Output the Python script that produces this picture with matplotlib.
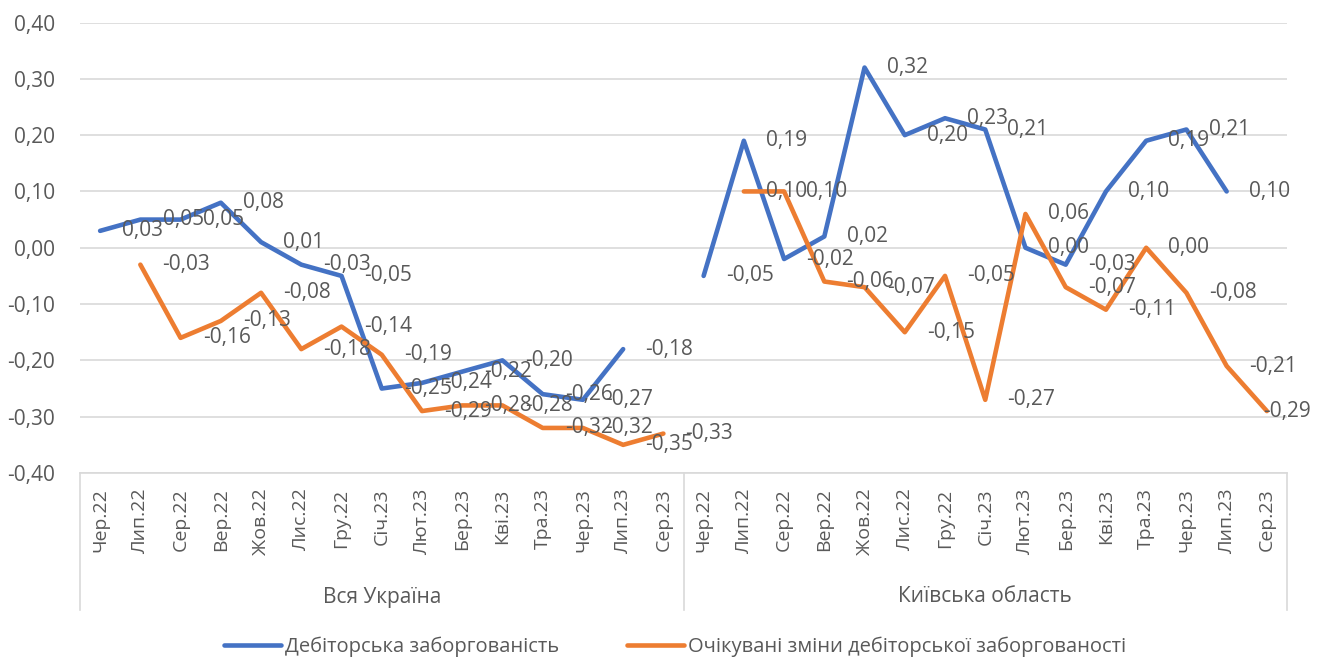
import numpy as np
import matplotlib
matplotlib.use("Agg")
import matplotlib.pyplot as plt
from matplotlib.ticker import FuncFormatter

plt.rcParams['font.family'] = ['Open Sans', 'DejaVu Sans']

months = ["Чер.22", "Лип.22", "Сер.22", "Вер.22", "Жов.22", "Лис.22", "Гру.22",
          "Січ.23", "Лют.23", "Бер.23", "Кві.23", "Тра.23", "Чер.23", "Лип.23", "Сер.23"]
groups = ["Вся Україна", "Київська область"]

nan = np.nan
debt_ukraine = [0.03, 0.05, 0.05, 0.08, 0.01, -0.03, -0.05, -0.25, -0.24, -0.22,
                -0.20, -0.26, -0.27, -0.18, nan]
expect_ukraine = [nan, -0.03, -0.16, -0.13, -0.08, -0.18, -0.14, -0.19, -0.29, -0.28,
                  -0.28, -0.32, -0.32, -0.35, -0.33]
debt_kyiv = [-0.05, 0.19, -0.02, 0.02, 0.32, 0.20, 0.23, 0.21, 0.00, -0.03,
             0.10, 0.19, 0.21, 0.10, nan]
expect_kyiv = [nan, 0.10, 0.10, -0.06, -0.07, -0.15, -0.05, -0.27, 0.06, -0.07,
               -0.11, 0.00, -0.08, -0.21, -0.29]

BLUE = "#4472C4"
ORANGE = "#ED7D31"
TXT = "#595959"
GRID = "#D9D9D9"


def fmt(v):
    s = f"{v:.2f}".replace(".", ",")
    return "0,00" if s == "-0,00" else s


fig = plt.figure(figsize=(13.25, 6.62), dpi=100)
ax = fig.add_axes([80 / 1325, 1 - 473 / 662, (1287 - 80) / 1325, (473 - 22.5) / 662])

n = len(months)
series = [
    ("Дебіторська заборгованість", BLUE, debt_ukraine, debt_kyiv),
    ("Очікувані зміни дебіторської заборгованості", ORANGE, expect_ukraine, expect_kyiv),
]
labels = []
for name, color, g1, g2 in series:
    for gi, vals in enumerate((g1, g2)):
        x = np.arange(n) + gi * n
        y = np.array(vals, dtype=float)
        ax.plot(x, y, color=color, lw=3.3, solid_capstyle="round",
                label=name if gi == 0 else None, zorder=3)
        for xi, yi in zip(x, y):
            if np.isnan(yi):
                continue
            t = ax.annotate(fmt(yi), (xi, yi), xytext=(16, 0), textcoords="offset points",
                            ha="left", va="center", fontsize=15, color=TXT, zorder=5)
            labels.append(t)

ax.set_xlim(-0.5, 2 * n - 0.5)
ax.set_ylim(-0.40, 0.40)
ax.set_yticks(np.arange(-0.4, 0.41, 0.1))
ax.yaxis.set_major_formatter(FuncFormatter(lambda v, p: fmt(v)))
ax.yaxis.grid(True, color=GRID, lw=1.2)
ax.set_axisbelow(True)
ax.tick_params(axis="y", length=0, pad=18, labelsize=15, labelcolor=TXT)

ax.set_xticks(np.arange(2 * n))
ax.set_xticklabels(months * 2, rotation=90, fontsize=14, color=TXT)
ax.tick_params(axis="x", length=0, pad=11)

for side in ("top", "right", "left"):
    ax.spines[side].set_visible(False)
ax.spines["bottom"].set_color(GRID)
ax.spines["bottom"].set_linewidth(1.2)

# multi-level category axis separators
trans = ax.get_xaxis_transform()
for xb in (-0.5, n - 0.5, 2 * n - 0.5):
    ax.plot([xb, xb], [0, -137 / 450.5], color=GRID, lw=1.2, transform=trans,
            clip_on=False)
for gi, g in enumerate(groups):
    ax.text(gi * n + (n - 1) / 2, -124 / 450.5, g, transform=trans, ha="center",
            va="center", fontsize=15, color=TXT)

fig.legend(loc="center", bbox_to_anchor=(675 / 1325, 1 - 647 / 662), ncol=2,
           frameon=False, fontsize=14.5, labelcolor=TXT, handlelength=2.8,
           handletextpad=0.2, columnspacing=3.4)

# keep labels inside the figure, like Excel does
fig.canvas.draw()
r = fig.canvas.get_renderer()
for t in labels:
    bb = t.get_window_extent(r)
    over = bb.x1 - (fig.bbox.width - 14)
    if over > 0:
        dx, dy = t.xyann
        t.xyann = (dx - over * 72 / fig.dpi, dy)

fig.savefig("out.png", dpi=100)
